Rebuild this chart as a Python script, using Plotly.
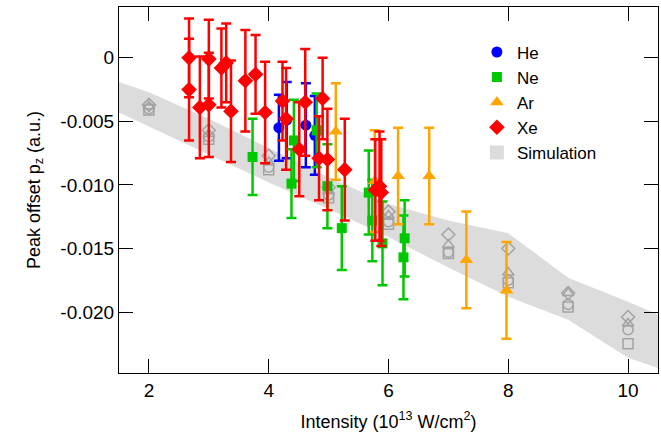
import plotly.graph_objects as go

# ---- Simulation band (upper / lower edges) ----
band_x = [1.5, 2, 3, 4, 5, 6, 7, 8, 9, 10, 10.5]
band_upper = [-0.0019, -0.0027, -0.0048, -0.0071, -0.0094, -0.0115, -0.0128, -0.0138, -0.0173, -0.0192, -0.0202]
band_lower = [-0.0043, -0.0054, -0.0076, -0.0098, -0.0119, -0.0141, -0.0165, -0.0188, -0.0206, -0.0236, -0.0244]

# ---- Simulation points (open gray markers) ----
sim_x = [2, 3, 4, 5, 6, 7, 8, 9, 10]
sim_he = [-0.0040, -0.0062, -0.0086, -0.0108, -0.0129, -0.0153, -0.0175, -0.0194, -0.0214]
sim_ne = [-0.0041, -0.0064, -0.0088, -0.0110, -0.0131, -0.0154, -0.0177, -0.0196, -0.0225]
sim_ar = [-0.0038, -0.0060, -0.0082, -0.0105, -0.0124, -0.0147, -0.0169, -0.0185, -0.0209]
sim_xe = [-0.0037, -0.0057, -0.0077, -0.0102, -0.0121, -0.0139, -0.0150, -0.0185, -0.0204]

# ---- Experimental data ----
he_x = [4.17, 4.30, 4.62, 4.77]
he_y = [-0.0055, -0.0049, -0.0053, -0.0061]
he_err = [0.0026, 0.0030, 0.0033, 0.0031]

ne_x = [3.73, 4.38, 4.42, 4.80, 4.98, 5.22, 5.67, 5.73, 5.90, 6.25, 6.27]
ne_y = [-0.0078, -0.0099, -0.0065, -0.0057, -0.0101, -0.0134, -0.0106, -0.0128, -0.0146, -0.0157, -0.0142]
ne_err = [0.0030, 0.0027, 0.0032, 0.0029, 0.0033, 0.0033, 0.0033, 0.0032, 0.0033, 0.0033, 0.0030]

ar_x = [5.12, 5.77, 6.16, 6.68, 7.30, 7.97]
ar_y = [-0.0058, -0.0097, -0.0093, -0.0093, -0.0159, -0.0183]
ar_err = [0.0038, 0.0040, 0.0038, 0.0038, 0.0038, 0.0038]

xe_x = [2.67, 2.67, 2.85, 3.00, 3.00, 3.21, 3.29, 3.37, 3.61, 3.78, 3.94,
        4.23, 4.29, 4.51, 4.61, 4.84, 4.90, 4.98, 5.27, 5.78, 5.85, 5.88]
xe_y = [0.0000, -0.0025, -0.0039, -0.0001, -0.0037, -0.0008, -0.0004, -0.0042, -0.0018, -0.0013, -0.0043,
        -0.0034, -0.0048, -0.0072, -0.0035, -0.0079, -0.0032, -0.0080, -0.0088, -0.0104, -0.0101, -0.0106]
xe_err = [0.0031, 0.0040, 0.0040, 0.0031, 0.0041, 0.0031, 0.0031, 0.0040, 0.0040, 0.0031, 0.0040,
          0.0031, 0.0040, 0.0037, 0.0042, 0.0033, 0.0032, 0.0040, 0.0040, 0.0040, 0.0043, 0.0042]

x_ticks = [2, 4, 6, 8, 10]
y_ticks = [0, -0.005, -0.010, -0.015, -0.020]
y_ticklabels = ["0", "-0.005", "-0.010", "-0.015", "-0.020"]

FONT = "Liberation Sans, Arial, Helvetica, sans-serif"
GRAY = "#a3a3a3"
BAND = "#dcdcdc"

fig = go.Figure()

# band polygon
fig.add_trace(go.Scatter(
    x=band_x + band_x[::-1], y=band_upper + band_lower[::-1],
    fill="toself", fillcolor=BAND, line=dict(width=0, color=BAND),
    mode="none", showlegend=False, hoverinfo="skip"))
# legend-only entry for the band (square swatch)
fig.add_trace(go.Scatter(
    x=[None], y=[None], mode="markers", name="Simulation", legendrank=5,
    marker=dict(symbol="square", size=14, color=BAND)))

for ys, sym in [(sim_xe, "diamond-open"), (sim_ar, "triangle-up-open"),
                (sim_he, "circle-open"), (sim_ne, "square-open")]:
    fig.add_trace(go.Scatter(
        x=sim_x, y=ys, mode="markers", showlegend=False,
        marker=dict(symbol=sym, size=10, color=GRAY, line=dict(width=1.5, color=GRAY))))

def add_exp(xs, ys, errs, name, color, sym, size, rank):
    fig.add_trace(go.Scatter(
        x=xs, y=ys, mode="markers", name=name, legendrank=rank,
        marker=dict(symbol=sym, size=size, color=color, line=dict(width=0)),
        error_y=dict(type="data", array=errs, visible=True, color=color,
                     thickness=2.5, width=5)))

add_exp(he_x, he_y, he_err, "He", "#0000ff", "circle", 11, 1)
add_exp(ne_x, ne_y, ne_err, "Ne", "#00c800", "square", 10, 2)
add_exp(ar_x, ar_y, ar_err, "Ar", "#ffa500", "triangle-up", 12, 3)
add_exp(xe_x, xe_y, xe_err, "Xe", "#ff0000", "diamond", 12, 4)

axis_common = dict(showline=True, linecolor="black", linewidth=1, mirror="allticks",
                   ticks="inside", ticklen=14, tickwidth=1, tickcolor="black",
                   showgrid=False, zeroline=False, automargin=False,
                   tickfont=dict(family=FONT, size=19, color="black"))

fig.update_xaxes(range=[1.5, 10.5], tickvals=x_ticks,
                 title=dict(text="Intensity (10<sup>13</sup> W/cm<sup>2</sup>)",
                            font=dict(family=FONT, size=18, color="black")),
                 **axis_common)
fig.update_yaxes(range=[-0.0248, 0.0040], tickvals=y_ticks, ticktext=y_ticklabels,
                 title=dict(text="Peak offset p<sub>z</sub> (a.u.)",
                            font=dict(family=FONT, size=18, color="black")),
                 **axis_common)

fig.update_layout(
    width=661, height=439,
    margin=dict(l=119, r=3, t=7, b=66),
    plot_bgcolor="white", paper_bgcolor="white",
    font=dict(family=FONT, size=19, color="black"),
    legend=dict(x=0.664, y=0.925, xanchor="left", yanchor="top",
                bgcolor="rgba(0,0,0,0)", font=dict(family=FONT, size=17),
                tracegroupgap=0, itemwidth=30),
    showlegend=True,
)

fig.write_html("out.html", config={"displayModeBar": False},
               post_script="document.body.style.margin='0';")
